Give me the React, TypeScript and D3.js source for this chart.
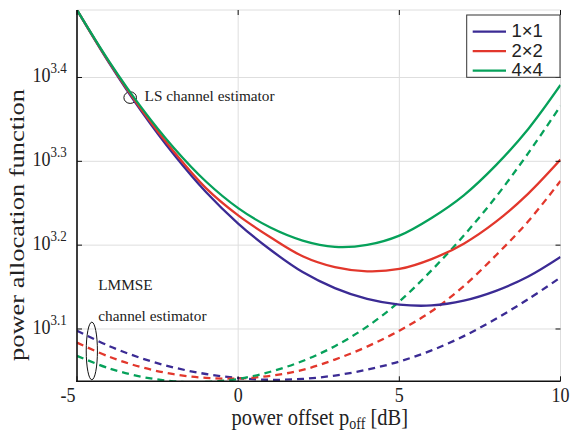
import React from "react";
import * as d3 from "d3";

// Channel configurations and their colours
const antennaConfigs = ["1×1", "2×2", "4×4"];
const seriesColors = ["#3b2b94", "#e2372c", "#06a15a"];

// Power offset grid [dB]
const powerOffsetDb = [-5, -4, -3, -2, -1, 0, 1, 2, 3, 4, 5, 6, 7, 8, 9, 10];

// log10 of the power allocation function, LS channel estimator
const lsExp1x1 = [3.4806, 3.4172, 3.3597, 3.3084, 3.2634, 3.2258, 3.1945, 3.1679, 3.1488, 3.1359, 3.1291, 3.1281, 3.1338, 3.1455, 3.1625, 3.1858];
const lsExp2x2 = [3.4806, 3.4179, 3.3615, 3.3117, 3.2680, 3.2355, 3.2095, 3.1868, 3.1738, 3.1688, 3.1716, 3.1834, 3.2018, 3.2280, 3.2615, 3.3020];
const lsExp4x4 = [3.4806, 3.4190, 3.3640, 3.3162, 3.2759, 3.2442, 3.2210, 3.2055, 3.1980, 3.2003, 3.2114, 3.2325, 3.2595, 3.2955, 3.3386, 3.3910];

// log10 of the power allocation function, LMMSE channel estimator
const lmmseExp1x1 = [3.0980, 3.0796, 3.0651, 3.0541, 3.0463, 3.0415, 3.0394, 3.0405, 3.0445, 3.0515, 3.0612, 3.0745, 3.0915, 3.1122, 3.1357, 3.1614];
const lmmseExp2x2 = [3.0837, 3.0669, 3.0544, 3.0461, 3.0417, 3.0410, 3.0441, 3.0512, 3.0635, 3.0790, 3.0980, 3.1212, 3.1512, 3.1880, 3.2285, 3.2766];
const lmmseExp4x4 = [3.0679, 3.0530, 3.0430, 3.0376, 3.0368, 3.0404, 3.0490, 3.0618, 3.0795, 3.1028, 3.1328, 3.1700, 3.2115, 3.2577, 3.3098, 3.3660];

// Axis ticks
const xTicks = [-5, 0, 5, 10];
const yTickExps = [3.1, 3.2, 3.3, 3.4];
const xDomain = [-5, 10];
const yExpDomain = [3.0376, 3.4805];

const W = 570;
const H = 435;
const plot = { left: 77, right: 560.5, top: 10, bottom: 381.3 };

const SERIF = "'Liberation Serif', 'Times New Roman', serif";
const SANS = "'Liberation Sans', Arial, sans-serif";
const GRID = "#dedede";

export default function App() {
  const x = d3.scaleLinear().domain(xDomain).range([plot.left, plot.right]);
  const y = d3
    .scaleLog()
    .domain(yExpDomain.map((e) => Math.pow(10, e)))
    .range([plot.bottom, plot.top]);

  const line = d3
    .line<[number, number]>()
    .x((d) => x(d[0]))
    .y((d) => y(Math.pow(10, d[1])))
    .curve(d3.curveCatmullRom.alpha(0.5));

  const lsSeries = [lsExp1x1, lsExp2x2, lsExp4x4];
  const lmmseSeries = [lmmseExp1x1, lmmseExp2x2, lmmseExp4x4];
  const toPts = (ys: number[]) => powerOffsetDb.map((p, i) => [p, ys[i]] as [number, number]);

  // Annotation anchors in data units
  const lsMark = { x: x(-3.35), y: y(Math.pow(10, 3.376)) };
  const lmmseMark = { x: x(-4.54), y: y(Math.pow(10, 3.0738)) };
  const lmmseTextX = x(-4.34);

  const legendX = 466.7;
  const legendY = 15;
  const legendRowH = 19.5;

  return (
    <svg
      width={W}
      height={H}
      viewBox={`0 0 ${W} ${H}`}
      style={{ position: "absolute", left: 0, top: 0, background: "#fff" }}
    >
      <defs>
        <clipPath id="plotClip">
          <rect x={plot.left} y={plot.top} width={plot.right - plot.left} height={plot.bottom - plot.top} />
        </clipPath>
      </defs>

      {/* grid */}
      {xTicks.map((t) => (
        <line key={`gx${t}`} x1={x(t)} x2={x(t)} y1={plot.top} y2={plot.bottom} stroke={GRID} strokeWidth={1} />
      ))}
      {yTickExps.map((e) => (
        <line
          key={`gy${e}`}
          x1={plot.left}
          x2={plot.right}
          y1={y(Math.pow(10, e))}
          y2={y(Math.pow(10, e))}
          stroke={GRID}
          strokeWidth={1}
        />
      ))}
      <line x1={plot.left} x2={plot.right} y1={plot.top} y2={plot.top} stroke={GRID} strokeWidth={1} />
      <line x1={plot.right} x2={plot.right} y1={plot.top} y2={plot.bottom} stroke={GRID} strokeWidth={1} />

      {/* annotation markers */}
      <ellipse cx={lsMark.x} cy={lsMark.y} rx={6.3} ry={5.8} fill="none" stroke="#111" strokeWidth={1} />
      <ellipse cx={lmmseMark.x} cy={lmmseMark.y} rx={5.6} ry={28.8} fill="none" stroke="#111" strokeWidth={1} />

      {/* curves */}
      <g clipPath="url(#plotClip)">
        {lmmseSeries.map((s, i) => (
          <path
            key={`lm${i}`}
            d={line(toPts(s)) || ""}
            fill="none"
            stroke={seriesColors[i]}
            strokeWidth={2.3}
            strokeDasharray="7,5"
          />
        ))}
        {lsSeries.map((s, i) => (
          <path key={`ls${i}`} d={line(toPts(s)) || ""} fill="none" stroke={seriesColors[i]} strokeWidth={2.3} />
        ))}
      </g>

      {/* axes */}
      <line x1={plot.left} x2={plot.left} y1={plot.top} y2={plot.bottom + 0.8} stroke="#111" strokeWidth={1.6} />
      <line x1={plot.left - 0.8} x2={plot.right} y1={plot.bottom} y2={plot.bottom} stroke="#111" strokeWidth={1.6} />
      {yTickExps.map((e) => {
        const yy = y(Math.pow(10, e));
        return (
          <g key={`ty${e}`}>
            <line x1={plot.left} x2={plot.left + 5} y1={yy} y2={yy} stroke="#111" strokeWidth={1} />
            <line x1={plot.right} x2={plot.right - 5} y1={yy} y2={yy} stroke="#111" strokeWidth={1} />
            <g transform={`translate(66.7, ${yy + 4.8}) scale(1, 1.15)`}>
              <text x={0} y={0} textAnchor="end" fontFamily={SERIF} fontSize={18} fill="#222">
                10
                <tspan fontSize={13} dy={-7.8}>
                  {e.toFixed(1)}
                </tspan>
              </text>
            </g>
          </g>
        );
      })}
      {xTicks.map((t) => (
        <g key={`tx${t}`}>
          <line x1={x(t)} x2={x(t)} y1={plot.bottom} y2={plot.bottom - 5} stroke="#111" strokeWidth={1} />
          <line x1={x(t)} x2={x(t)} y1={plot.top} y2={plot.top + 5} stroke="#111" strokeWidth={1} />
          <g transform={`translate(${x(t)}, 402) scale(1, 1.12)`}>
            <text
              x={0}
              y={0}
              dx={t < 0 ? "-0.5em" : 0}
              textAnchor="middle"
              fontFamily={SERIF}
              fontSize={18}
              fill="#222"
            >
              {String(t)}
            </text>
          </g>
        </g>
      ))}

      {/* axis titles */}
      <g transform={`translate(${(plot.left + plot.right) / 2 + 1}, 425) scale(1, 1.12)`}>
        <text x={0} y={0} textAnchor="middle" fontFamily={SERIF} fontSize={20.5} fill="#222">
          power offset p
          <tspan fontSize={14} dy={4}>
            off
          </tspan>
          <tspan dy={-4}> [dB]</tspan>
        </text>
      </g>
      <text
        transform="translate(23.5, 225) rotate(-90)"
        x={0}
        y={0}
        textAnchor="middle"
        fontFamily={SERIF}
        fontSize={20.5}
        fill="#222"
        textLength={272}
        lengthAdjust="spacingAndGlyphs"
      >
        power allocation function
      </text>

      {/* annotations */}
      <text x={lsMark.x + 14.4} y={lsMark.y + 3.3} fontFamily={SERIF} fontSize={15.3} fill="#222">
        LS channel estimator
      </text>
      <text x={lmmseTextX} y={y(Math.pow(10, 3.1465))} fontFamily={SERIF} fontSize={15.3} fill="#222">
        LMMSE
      </text>
      <text x={lmmseTextX} y={y(Math.pow(10, 3.1101))} fontFamily={SERIF} fontSize={15.3} fill="#222">
        channel estimator
      </text>

      {/* legend */}
      <rect
        x={legendX}
        y={legendY}
        width={plot.right - legendX - 0.5}
        height={62.3}
        fill="#fff"
        stroke="#333"
        strokeWidth={1}
      />
      {antennaConfigs.map((name, i) => {
        const ly = legendY + 16.7 + i * legendRowH;
        return (
          <g key={name}>
            <line x1={472.7} x2={506} y1={ly} y2={ly} stroke={seriesColors[i]} strokeWidth={2.3} />
            <text x={511.5} y={ly + 5.6} fontFamily={SANS} fontSize={18.5} fill="#222">
              {name}
            </text>
          </g>
        );
      })}
    </svg>
  );
}
